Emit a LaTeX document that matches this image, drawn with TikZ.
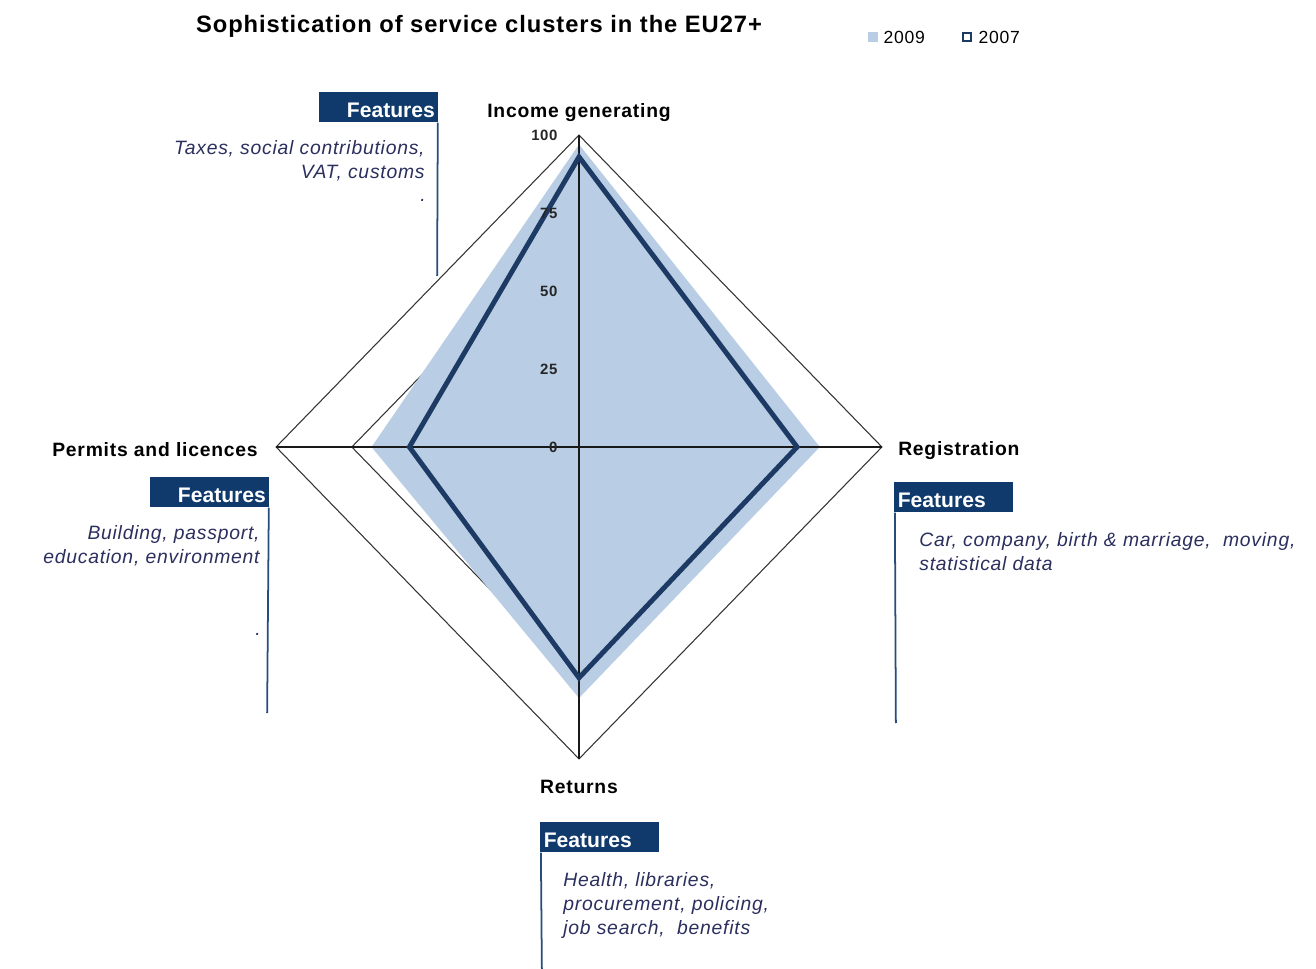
\documentclass[tikz,border=0pt]{standalone}
\usepackage{fontspec}
\setmainfont{Liberation Sans}
\newfontfamily\chartfont[LetterSpace=4]{Liberation Sans}
\usepackage{xcolor}
\usepackage{tikz}
\usetikzlibrary{positioning}
\definecolor{eunavy}{HTML}{0F3A6B}
\definecolor{eulightblue}{HTML}{B9CDE5}
\definecolor{eudarkblue}{HTML}{1C3A64}
\definecolor{eutext}{HTML}{2B2F5E}
\definecolor{eugrid}{HTML}{333333}

\begin{document}
\begin{tikzpicture}[
  x=0.02cm,y=-0.02cm,
  title/.style={font=\chartfont\fontsize{13.5}{16}\selectfont\bfseries,inner sep=0pt},
  legendtext/.style={font=\chartfont\fontsize{10}{12}\selectfont,anchor=west,inner sep=0pt},
  axislabel/.style={font=\chartfont\fontsize{11}{13}\selectfont\bfseries,inner sep=0pt},
  ticklabel/.style={font=\chartfont\fontsize{8.5}{9}\selectfont\bfseries,anchor=east,inner sep=0pt,text=black!85},
  header/.style={fill=eunavy,text=white,font=\fontsize{12}{14}\selectfont\bfseries,
                 text height=0.46cm,text depth=0.04cm,text width=2.24cm,
                 inner xsep=0.07cm,inner ysep=0.05cm},
  features/.style={font=\chartfont\fontsize{11}{13.8}\selectfont\itshape,text=eutext,inner sep=0pt},
  featline/.style={line width=1pt,eunavy!90},
  grid/.style={line width=0.6pt,eugrid},
  axis/.style={line width=0.7pt,black!90},
  year2009/.style={fill=eulightblue},
  year2007/.style={line width=2.8pt,eudarkblue,line join=miter}
]
  \fill[white] (0,0) rectangle (1316,969);
  \useasboundingbox (0,0) rectangle (1316,969);

  \node[title] (title) at (479,26) {Sophistication of service clusters in the EU27+};

  % legend
  \node[fill=eulightblue,minimum size=0.2cm,inner sep=0pt] (key09) at (873,37) {};
  \node[legendtext,right=0.1cm of key09] (lbl09) {2009};
  \node[draw=eudarkblue,line width=1.2pt,fill=white,minimum size=0.17cm,inner sep=0pt] (key07) at (967,37) {};
  \node[legendtext,right=0.12cm of key07] (lbl07) {2007};

  % radar chart
  \begin{scope}[shift={(579,447)},x=0.0606cm,y=0.0624cm]
    \foreach \r in {25,50,75,100}
      \draw[grid] (0,\r) -- (\r,0) -- (0,-\r) -- (-\r,0) -- cycle;
    \fill[year2009] (0,97) -- (79.5,0) -- (0,-80.5) -- (-68.5,0) -- cycle;
    \coordinate (axtop) at (0,100);
    \coordinate (axright) at (100,0);
    \coordinate (axbottom) at (0,-100);
    \coordinate (axleft) at (-100,0);
    \draw[axis] (axtop) -- (axbottom);
    \draw[axis] (axleft) -- (axright);
    \draw[year2007] (0,93) -- (72,0) -- (0,-74) -- (-56,0) -- cycle;
    \node[ticklabel] (t100) at (-7,100) {100};
    \node[ticklabel] (t75) at (-7,75) {75};
    \node[ticklabel] (t50) at (-7,50) {50};
    \node[ticklabel] (t25) at (-7,25) {25};
    \node[ticklabel] (t0) at (-7,0) {0};
  \end{scope}

  \node[axislabel,above=0.27cm of axtop] (income) {Income generating};
  \node[axislabel,right=0.32cm of axright,yshift=-2pt] (registration) {Registration};
  \node[axislabel,below=0.42cm of axbottom] (returns) {Returns};
  \node[axislabel,left=0.36cm of axleft,yshift=-1.5pt] (permits) {Permits and licences};

  % feature boxes
  \node[header,align=right,anchor=north west] (fincome) at (319,92) {Features};
  \coordinate (fincomeend) at (438,276);
  \draw[featline] ([xshift=-0.5pt]fincome.south east) -- ([xshift=-0.5pt]fincomeend);
  \node[features,align=right,anchor=north east] (tincome) at (425,140)
    {Taxes, social contributions,\\VAT, customs};
  \node[features,anchor=center] (dotincome) at (423,200) {.};

  \node[header,align=right,anchor=north west] (fpermits) at (150,477) {Features};
  \coordinate (fpermitsend) at (268,713);
  \draw[featline] ([xshift=-0.5pt]fpermits.south east) -- ([xshift=-0.5pt]fpermitsend);
  \node[features,align=right,anchor=north east] (tpermits) at (260,525)
    {Building, passport,\\education, environment};
  \node[features,anchor=center] (dotpermits) at (258,634) {.};

  \node[header,align=left,anchor=north west] (fregistration) at (894,482) {Features};
  \coordinate (fregistrationend) at (895,723);
  \draw[featline] ([xshift=0.5pt]fregistration.south west) -- ([xshift=0.5pt]fregistrationend);
  \node[features,align=left,anchor=north west] (tregistration) at (919,532)
    {Car, company, birth \& marriage, \ moving,\\statistical data};

  \node[header,align=left,anchor=north west] (freturns) at (540,822) {Features};
  \coordinate (freturnsend) at (541,969);
  \draw[featline] ([xshift=0.5pt]freturns.south west) -- ([xshift=0.5pt]freturnsend);
  \node[features,align=left,anchor=north west] (treturns) at (563,872)
    {Health, libraries,\\procurement, policing,\\job search, \ benefits};
\end{tikzpicture}
\end{document}
